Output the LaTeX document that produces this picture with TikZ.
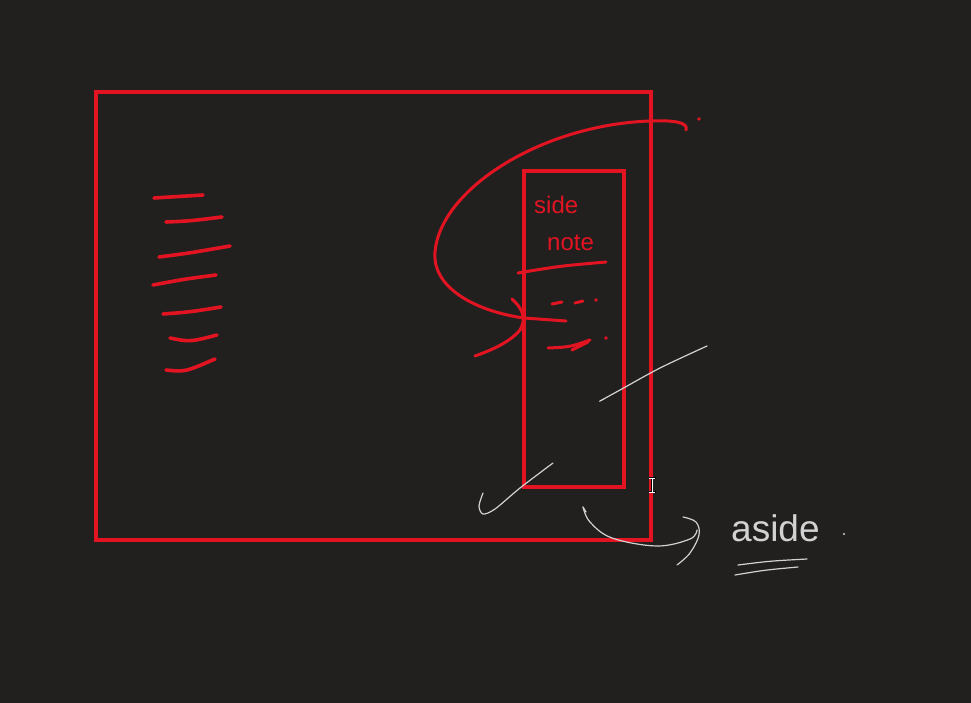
\documentclass[tikz,border=0pt]{standalone}
\usepackage{fontspec}
\setmainfont{Liberation Sans}
\definecolor{bg}{RGB}{33,32,31}
\definecolor{pen}{RGB}{226,20,34}
\definecolor{chalk}{RGB}{210,210,210}
\begin{document}
\begin{tikzpicture}[x=1pt,y=-1pt,
  redpen/.style={draw=pen,line width=3.6pt,line cap=round,line join=round},
  thinred/.style={draw=pen,line width=3pt,line cap=round,line join=round},
  whitepen/.style={draw=chalk,line width=1.2pt,line cap=round,line join=round},
  boxstyle/.style={draw=pen,line width=3.6pt,inner sep=0pt,outer sep=0pt,anchor=north west}]
\fill[bg] (0,0) rectangle (971,703);
\useasboundingbox (0,0) rectangle (971,703);

% boxes
\node[boxstyle,minimum width=555pt,minimum height=448pt] (outer) at (96,92) {};
\node[boxstyle,minimum width=100pt,minimum height=316pt] (inner) at (524,171) {};

% left hatching
\draw[redpen] (154,198) -- (203,195);
\draw[redpen] (166,222) .. controls (190,221) .. (222,217);
\draw[redpen] (159,257) .. controls (190,253) .. (230,246);
\draw[redpen] (153,285) .. controls (185,279) .. (216,275);
\draw[redpen] (163,314) .. controls (190,312) .. (221,307);
\draw[redpen] (170,338) .. controls (190,342) .. (217,335);
\draw[redpen] (166,370) .. controls (185,372) .. (215,359);

% side note text
\node[text=pen,font=\fontsize{24}{24}\selectfont,anchor=base west,inner sep=0pt] (side) at (534,214) {side};
\node[text=pen,font=\fontsize{24}{24}\selectfont,anchor=base west,inner sep=0pt] (note) at (547,251) {note};
\draw[thinred] (518,273) .. controls (560,266) .. (606,262);
% dashes
\draw[thinred] (552,304) -- (562,302);
\draw[thinred] (575,303) -- (583,301);
\fill[pen] (596,300) circle (1.8pt);
\draw[thinred] (548,348) .. controls (570,347) .. (590,340);
\draw[thinred] (572,350) -- (588,342);
\fill[pen] (606,338) circle (1.8pt);

% big loop arrow
\draw[thinred] (686,130) .. controls (689,122) and (672,120) .. (650,121)
  .. controls (540,125) and (440,190) .. (435,252)
  .. controls (432,290) and (480,312) .. (524,318) -- (566,321);
\draw[thinred] (512,299) .. controls (522,308) and (527,318) .. (520,330)
  .. controls (510,342) and (492,350) .. (475,356);
\fill[pen] (699,119) circle (1.8pt);

% white strokes
\draw[whitepen] plot[smooth,tension=0.5] coordinates {(707,346) (660,368) (620,390) (600,401) (604,399)};
\draw[whitepen] plot[smooth,tension=0.5] coordinates {(553,463) (520,488) (495,509) (483,514) (479,506) (483,493)};
\draw[whitepen] (583,507) -- (586,512);
\draw[whitepen] plot[smooth,tension=0.6] coordinates {(583,507) (590,522) (612,538) (657,546) (690,539) (697,530)};
\draw[whitepen] plot[smooth,tension=0.6] coordinates {(683,517) (696,522) (699,535) (690,553) (677,565)};

% aside
\node[text=chalk,font=\fontsize{37}{37}\selectfont,anchor=base west,inner sep=0pt] (aside) at (731,541) {aside};
\fill[chalk] (844,534) circle (1.2pt);
\draw[whitepen] (738,565) .. controls (770,561) .. (807,559);
\draw[whitepen] (735,575) .. controls (765,570) .. (798,567);

% text cursor
\draw[black,line width=2.6pt] (652,478) -- (652,492) (648.5,478) -- (655.5,478) (648.5,492) -- (655.5,492);
\draw[white,line width=1pt] (652,478) -- (652,492) (649,478) -- (655,478) (649,492) -- (655,492);
\end{tikzpicture}
\end{document}
